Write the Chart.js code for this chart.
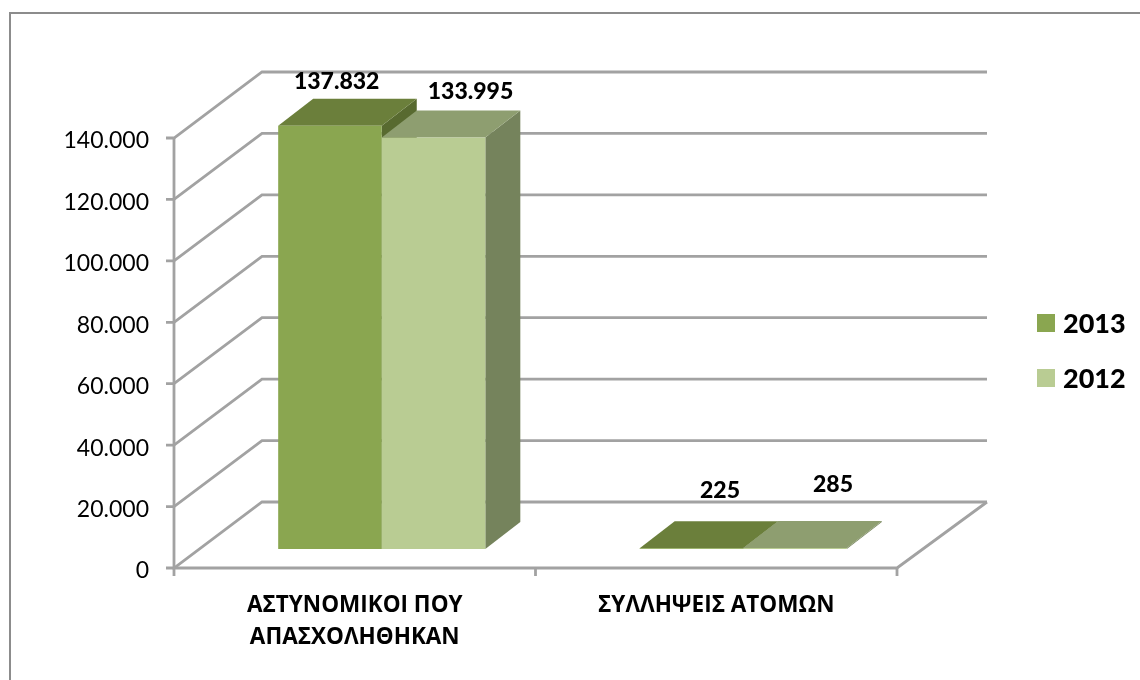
<!DOCTYPE html>
<html><head><meta charset="utf-8">
<style>html,body{margin:0;padding:0;background:#fff}canvas{display:block}#w{width:1140px;height:680px}</style>
<script src="https://cdn.jsdelivr.net/npm/chart.js@4"></script>
</head><body><div id="w"><canvas id="c"></canvas></div>
<script>
const categories = [['ΑΣΤΥΝΟΜΙΚΟΙ ΠΟΥ','ΑΠΑΣΧΟΛΗΘΗΚΑΝ'],'ΣΥΛΛΗΨΕΙΣ ΑΤΟΜΩΝ'];
const series2013 = [137832, 225];
const series2012 = [133995, 285];
const seriesNames = ['2013','2012'];
const FONT = 'Lato, "Open Sans", sans-serif';
const GREEK_FONT = '"Open Sans", sans-serif';
const fmt = v => String(v).replace(/\B(?=(\d{3})+$)/g,'.');
const GRID = '#a2a2a2';
const BACK = {dx:88, dy:-66};
const BAR_PLANE = {dx:27, dy:-19};
const BAR_DEPTH = {dx:35, dy:-27};
const FACES = [
  {front:'#8aa650', top:'#6b7f3b', side:'#586a30'},
  {front:'#b9cc93', top:'#8e9e70', side:'#75835c'}
];
const labelNudge = [[[6.7,-17],[28.5,-31]],[[37,-19],[38,-37]]];
const legendPos = {box:[1037,314], size:18, gap:55, textX:1063};

function poly(ctx, pts, fill){ctx.beginPath();pts.forEach((p,i)=>i?ctx.lineTo(p[0],p[1]):ctx.moveTo(p[0],p[1]));ctx.closePath();ctx.fillStyle=fill;ctx.fill();}

const walls = {
  id:'walls',
  beforeDraw(chart){
    const {ctx, scales:{y}} = chart;
    if(!y._shifted){
      y._shifted=true;
      const f=y.drawLabels;
      y.drawLabels=function(a){ctx.save();ctx.translate(0,3);f.call(this,a);ctx.restore();};
    }
    ctx.save();ctx.strokeStyle='#8c8c8c';ctx.lineWidth=2;ctx.beginPath();
    ctx.moveTo(10,680);ctx.lineTo(10,13);ctx.lineTo(1140,13);ctx.stroke();ctx.restore();
  },
  beforeDatasetsDraw(chart){
    const {ctx, scales:{x,y}, chartArea:a} = chart;
    ctx.save();
    ctx.strokeStyle=GRID; ctx.lineWidth=2.8; ctx.lineCap='butt';
    y.ticks.forEach(t=>{
      const py=y.getPixelForValue(t.value);
      ctx.beginPath();
      ctx.moveTo(a.left-8,py);ctx.lineTo(a.left,py);
      ctx.lineTo(a.left+BACK.dx,py+BACK.dy);ctx.lineTo(a.right+BACK.dx+2,py+BACK.dy);
      ctx.stroke();
    });
    ctx.beginPath();ctx.moveTo(a.left,a.top);ctx.lineTo(a.left,a.bottom);ctx.lineTo(a.right,a.bottom);
    ctx.lineTo(a.right+BACK.dx+2,a.bottom+BACK.dy);ctx.stroke();
    const edges=[a.left,(a.left+a.right)/2,a.right];
    edges.forEach(e=>{ctx.beginPath();ctx.moveTo(e,a.bottom);ctx.lineTo(e,a.bottom+8);ctx.stroke();});
    ctx.translate(BAR_PLANE.dx,BAR_PLANE.dy);
    chart.data.datasets.forEach((ds,i)=>{
      chart.getDatasetMeta(i).data.forEach(b=>{
        const l=b.x-b.width/2,r=b.x+b.width/2,t=b.y,base=b.base,d=BAR_DEPTH;
        poly(ctx,[[r,t],[r+d.dx,t+d.dy],[r+d.dx,base+d.dy],[r,base]],FACES[i].side);
        poly(ctx,[[l,t],[l+d.dx,t+d.dy],[r+d.dx,t+d.dy],[r,t]],FACES[i].top);
      });
    });
    ctx.restore();
    ctx.save();
    ctx.translate(BAR_PLANE.dx,BAR_PLANE.dy);
  },
  afterDatasetsDraw(chart){
    const {ctx}=chart;
    ctx.restore();
    ctx.save();
    ctx.font='900 23px '+FONT; ctx.fillStyle='#000'; ctx.textAlign='center'; ctx.textBaseline='middle';
    chart.data.datasets.forEach((ds,i)=>{
      chart.getDatasetMeta(i).data.forEach((b,j)=>{
        const n=labelNudge[i][j];
        ctx.fillText(fmt(ds.data[j]), b.x+BAR_PLANE.dx+n[0], b.y+BAR_PLANE.dy+BAR_DEPTH.dy+n[1]);
      });
    });
    ctx.textAlign='left';
    ctx.font='900 27px '+FONT;
    chart.data.datasets.forEach((ds,i)=>{
      const y=legendPos.box[1]+i*legendPos.gap;
      ctx.fillStyle=ds.backgroundColor;
      ctx.fillRect(legendPos.box[0],y,legendPos.size,legendPos.size);
      ctx.fillStyle='#000';
      ctx.fillText(ds.label,legendPos.textX,y+legendPos.size/2+1);
    });
    ctx.restore();
  }
};

new Chart(document.getElementById('c'),{
  type:'bar',
  data:{labels:categories,datasets:[
    {label:seriesNames[0],data:series2013,backgroundColor:FACES[0].front},
    {label:seriesNames[1],data:series2012,backgroundColor:FACES[1].front}
  ]},
  options:{
    responsive:true,maintainAspectRatio:false,animation:false,
    layout:{padding:{left:0,top:138,right:243,bottom:0}},
    datasets:{bar:{barPercentage:1,categoryPercentage:0.573}},
    plugins:{legend:{display:false},tooltip:{enabled:false}},
    scales:{
      x:{
        afterFit(s){s.height=112;},
        grid:{display:false},border:{display:false},
        ticks:{color:'#000',maxRotation:0,autoSkip:false,padding:14,font:{family:GREEK_FONT,size:22.5,weight:'bold',lineHeight:1.42}}
      },
      y:{
        min:0,max:140000,
        afterFit(s){s.width=174;},
        grid:{display:false},border:{display:false},
        ticks:{stepSize:20000,color:'#000',padding:17,font:{family:FONT,size:23},callback:v=>fmt(v)}
      }
    }
  },
  plugins:[walls]
});
</script></body></html>
